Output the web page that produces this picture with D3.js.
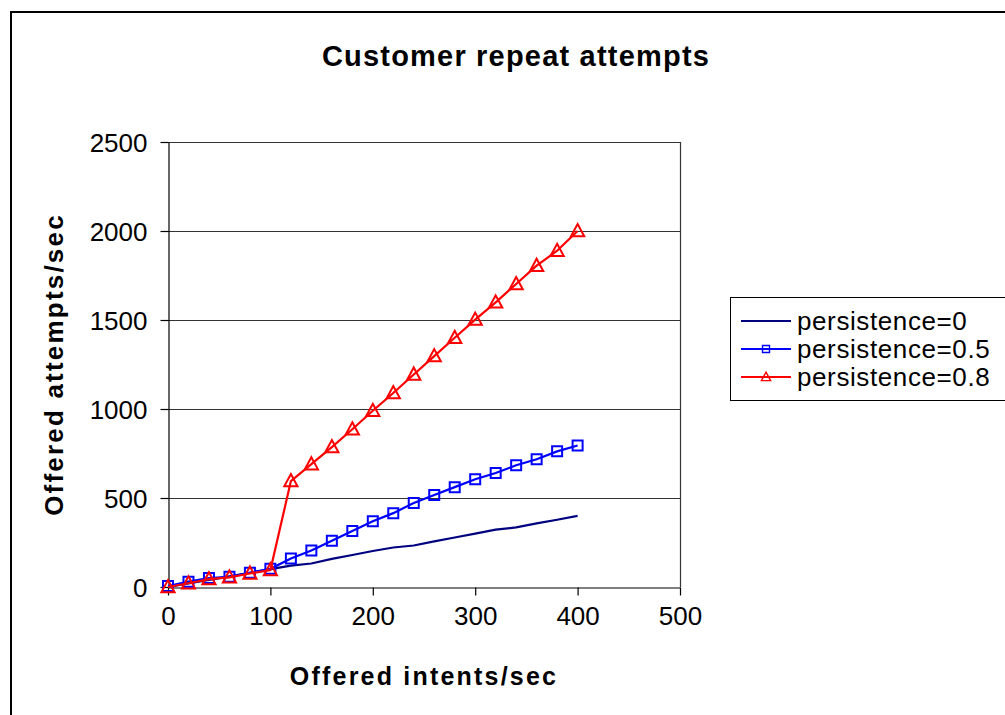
<!DOCTYPE html>
<html>
<head>
<meta charset="utf-8">
<script src="https://cdn.jsdelivr.net/npm/d3@7"></script>
<style>
  body { margin: 0; background: #fff; }
  svg { display: block; font-family: Arial, "Liberation Sans", sans-serif; }
</style>
</head>
<body>
<div id="chart"></div>
<script>
// data
var intents = [0, 20, 40, 60, 80, 100, 120, 140, 160, 180, 200, 220, 240, 260, 280, 300, 320, 340, 360, 380, 400];
var persist0 = [0, 20, 40, 60, 80, 100, 120, 132, 158, 180, 202, 222, 233, 256, 278, 300, 322, 335, 357, 378, 400];
var persist05 = [5, 30, 50, 57, 80, 102, 160, 205, 260, 315, 370, 415, 472, 517, 561, 605, 640, 684, 718, 762, 795];
var persist08 = [0, 21, 44, 54, 76, 95, 595, 690, 786, 886, 990, 1090, 1194, 1297, 1400, 1502, 1599, 1702, 1805, 1889, 2000];
var seriesNames = ["persistence=0", "persistence=0.5", "persistence=0.8"];
var xTicks = [0, 100, 200, 300, 400, 500];
var yTicks = [0, 500, 1000, 1500, 2000, 2500];

var W = 1005, H = 715;
var margin = {top: 142, left: 168, right: W - 680, bottom: H - 587};

var svg = d3.select("#chart").append("svg")
  .attr("width", W)
  .attr("height", H);

svg.append("rect").attr("width", W).attr("height", H).attr("fill", "#fff");

// outer chart frame (runs off the right and bottom of the picture)
svg.append("rect")
  .attr("x", 11).attr("y", 12)
  .attr("width", W + 20).attr("height", H + 20)
  .attr("fill", "none").attr("stroke", "#000").attr("stroke-width", 2);

var x = d3.scaleLinear().domain([0, 500]).range([margin.left, W - margin.right]);
var y = d3.scaleLinear().domain([0, 2500]).range([H - margin.bottom, margin.top]);

// gridlines
svg.append("g")
  .selectAll("line")
  .data(yTicks.slice(1))
  .join("line")
    .attr("x1", x(0)).attr("x2", x(500))
    .attr("y1", d => Math.round(y(d)) + 0.5).attr("y2", d => Math.round(y(d)) + 0.5)
    .attr("stroke", "#333").attr("stroke-width", 1.2);

// right edge of plot area
svg.append("line")
  .attr("x1", Math.round(x(500)) + 0.5).attr("x2", Math.round(x(500)) + 0.5)
  .attr("y1", y(2500)).attr("y2", y(0))
  .attr("stroke", "#333").attr("stroke-width", 1.2);

// axes
var xAxis = svg.append("g")
  .attr("transform", "translate(0," + (Math.round(y(0)) + 0.5) + ")")
  .call(d3.axisBottom(x).tickValues(xTicks).tickFormat(d3.format("d"))
    .tickSize(8).tickPadding(11).tickSizeOuter(0));
var yAxis = svg.append("g")
  .attr("transform", "translate(" + (Math.round(x(0)) + 0.5) + ",0)")
  .call(d3.axisLeft(y).tickValues(yTicks).tickFormat(d3.format("d"))
    .tickSize(8).tickPadding(13).tickSizeOuter(0));

[xAxis, yAxis].forEach(function(g){
  g.select(".domain").attr("stroke", "#000").attr("stroke-width", 1.2);
  g.selectAll(".tick line").attr("stroke", "#000").attr("stroke-width", 1.2);
  g.selectAll(".tick text")
    .attr("font-family", "Arial, 'Liberation Sans', sans-serif")
    .attr("font-size", 26).attr("fill", "#000");
});
yAxis.selectAll(".tick text").attr("dy", "0.36em");

// titles
svg.append("text")
  .attr("x", 516).attr("y", 66)
  .attr("text-anchor", "middle")
  .attr("font-size", 29).attr("font-weight", "bold")
  .attr("letter-spacing", 1.2)
  .text("Customer repeat attempts");

svg.append("text")
  .attr("x", x(250)).attr("y", 685)
  .attr("text-anchor", "middle")
  .attr("font-size", 25).attr("font-weight", "bold")
  .attr("letter-spacing", 2.2)
  .text("Offered intents/sec");

svg.append("text")
  .attr("transform", "translate(63," + ((y(0) + y(2500)) / 2) + ") rotate(-90)")
  .attr("text-anchor", "middle")
  .attr("font-size", 26).attr("font-weight", "bold")
  .attr("letter-spacing", 2.2)
  .text("Offered attempts/sec");

// series
var series = [
  {name: seriesNames[0], values: persist0, color: "#000080", marker: null},
  {name: seriesNames[1], values: persist05, color: "#0000FF", marker: "square"},
  {name: seriesNames[2], values: persist08, color: "#FF0000", marker: "triangle"}
];

var line = d3.line()
  .x((d, i) => x(intents[i]))
  .y(d => y(d));

var squarePath = d3.symbol().type(d3.symbolSquare).size(100)();
var trianglePath = "M0,-7L6.6,5.2L-6.6,5.2Z";

function drawMarker(g, type, color){
  g.append("path")
    .attr("d", type === "square" ? squarePath : trianglePath)
    .attr("fill", "none")
    .attr("stroke", color)
    .attr("stroke-width", 2);
}

series.forEach(function(s){
  svg.append("path")
    .datum(s.values)
    .attr("fill", "none")
    .attr("stroke", s.color)
    .attr("stroke-width", 2.2)
    .attr("d", line);
  if (s.marker) {
    svg.append("g")
      .selectAll("g")
      .data(s.values)
      .join("g")
        .attr("transform", (d, i) => "translate(" + x(intents[i]) + "," + y(d) + ")")
        .each(function(){ drawMarker(d3.select(this), s.marker, s.color); });
  }
});

// legend
var legend = svg.append("g");
legend.append("rect")
  .attr("x", 730.5).attr("y", 297.5)
  .attr("width", 300).attr("height", 103)
  .attr("fill", "#fff").attr("stroke", "#000").attr("stroke-width", 1);

series.forEach(function(s, i){
  var ly = 321 + i * 28;
  var item = legend.append("g");
  item.append("line")
    .attr("x1", 741).attr("x2", 791)
    .attr("y1", ly).attr("y2", ly)
    .attr("stroke", s.color).attr("stroke-width", 2);
  if (s.marker) {
    var m = item.append("g").attr("transform", "translate(766," + ly + ") scale(0.7)");
    drawMarker(m, s.marker, s.color);
  }
  item.append("text")
    .attr("x", 797).attr("y", ly)
    .attr("dy", "0.36em")
    .attr("font-size", 26)
    .attr("letter-spacing", 0.6)
    .text(s.name);
});
</script>
</body>
</html>
